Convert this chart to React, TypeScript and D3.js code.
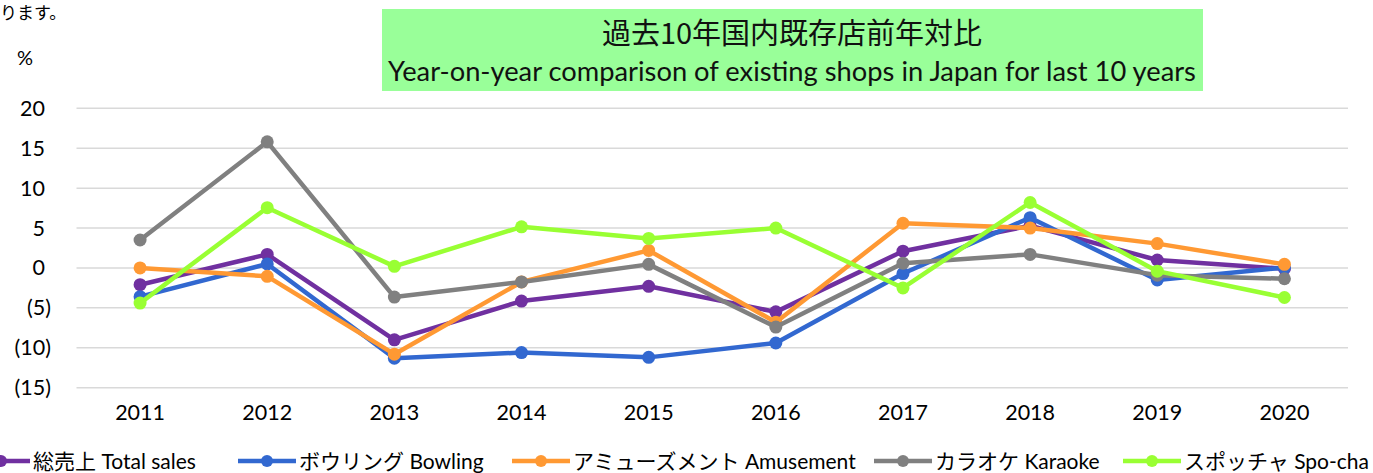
import * as d3 from "d3";

const years = ["2011", "2012", "2013", "2014", "2015", "2016", "2017", "2018", "2019", "2020"];
const yTicks = [20, 15, 10, 5, 0, -5, -10, -15];

const totalSales = [-2.1, 1.7, -9.0, -4.15, -2.3, -5.5, 2.1, 5.3, 1.0, -0.1];
const bowling = [-3.6, 0.5, -11.3, -10.6, -11.2, -9.4, -0.7, 6.3, -1.5, 0.05];
const amusement = [0.0, -1.05, -10.8, -1.75, 2.2, -6.8, 5.6, 5.0, 3.05, 0.45];
const karaoke = [3.5, 15.8, -3.65, -1.75, 0.45, -7.4, 0.6, 1.7, -0.9, -1.35];
const spocha = [-4.4, 7.55, 0.2, 5.15, 3.7, 5.0, -2.5, 8.2, -0.4, -3.7];

const seriesNames = [
  "総売上 Total sales",
  "ボウリング Bowling",
  "アミューズメント Amusement",
  "カラオケ Karaoke",
  "スポッチャ Spo-cha",
];
const seriesValues = [totalSales, bowling, amusement, karaoke, spocha];

const colors = ["#7030a0", "#3268d0", "#ff9933", "#808080", "#99ff33"];
// legend entry start x (layout only)
const legendX = [-28, 238, 512, 874, 1123];

const width = 1373;
const height = 473;
const font = "Lato, 'Noto Sans CJK JP', sans-serif";

export default function App() {
  const x = d3.scaleBand().domain(years).range([76.5, 1348]);
  const y = d3.scaleLinear().domain([-15, 20]).range([387.7, 108.3]);
  const cx = (yr: string) => (x(yr) ?? 0) + x.bandwidth() / 2;

  const line = d3
    .line<number>()
    .x((_, i) => cx(years[i]))
    .y((v) => y(v));

  const fmt = (v: number) => (v < 0 ? `(${Math.abs(v)})` : `${v}`);

  return (
    <svg
      width={width}
      height={height}
      style={{ position: "absolute", left: 0, top: 0, background: "#fff" }}
      fontFamily={font}
    >
      <text x={0} y={19} fontSize={17} fill="#000" fontFamily="'Noto Sans CJK JP', sans-serif">
        ります。
      </text>

      <rect x={382} y={9} width={821} height={82} fill="#99ff99" />
      <text
        x={792}
        y={44}
        textAnchor="middle"
        fontSize={29}
        fill="#111"
        fontFamily="'Noto Sans CJK JP', sans-serif"
      >
        過去10年国内既存店前年対比
      </text>
      <text x={792} y={81} textAnchor="middle" fontSize={27.3} fill="#111">
        Year-on-year comparison of existing shops in Japan for last 10 years
      </text>

      <text x={25} y={65} textAnchor="middle" fontSize={20} fill="#000">
        %
      </text>

      <g>
        {yTicks.map((t) => (
          <g key={t}>
            <line x1={76.5} x2={1348} y1={y(t)} y2={y(t)} stroke="#d9d9d9" strokeWidth={1.5} />
            <text
              x={t < 0 ? 51 : 45}
              y={y(t) + 7.5}
              textAnchor="end"
              fontSize={21.5}
              fill="#000"
            >
              {fmt(t)}
            </text>
          </g>
        ))}
      </g>

      <g>
        {years.map((yr) => (
          <text key={yr} x={cx(yr)} y={420} textAnchor="middle" fontSize={21.5} fill="#000">
            {yr}
          </text>
        ))}
      </g>

      {seriesValues.map((vals, s) => (
        <g key={seriesNames[s]}>
          <path d={line(vals) ?? ""} fill="none" stroke={colors[s]} strokeWidth={4.5} strokeLinejoin="round" />
          {vals.map((v, i) => (
            <circle key={i} cx={cx(years[i])} cy={y(v)} r={6.5} fill={colors[s]} />
          ))}
        </g>
      ))}

      <g>
        {seriesNames.map((name, s) => (
          <g key={name} transform={`translate(${legendX[s]},461)`}>
            <line x1={0} x2={58} y1={0} y2={0} stroke={colors[s]} strokeWidth={4.5} />
            <circle cx={29} cy={0} r={6} fill={colors[s]} />
            <text x={61} y={7.5} fontSize={21} fill="#000">
              {name}
            </text>
          </g>
        ))}
      </g>
    </svg>
  );
}
